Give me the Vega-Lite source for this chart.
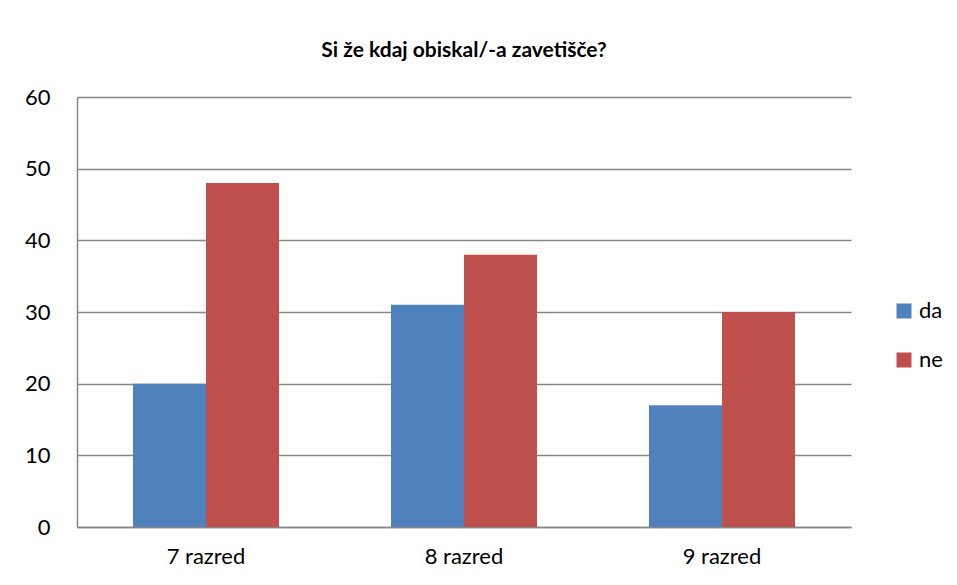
{
  "$schema": "https://vega.github.io/schema/vega-lite/v6.json",
  "width": 774,
  "height": 430,
  "autosize": {"type": "none"},
  "padding": {"left": 77, "top": 97, "right": 106, "bottom": 58},
  "background": "white",
  "title": {
    "text": "Si že kdaj obiskal/-a zavetišče?",
    "font": "Lato",
    "fontSize": 21,
    "fontWeight": "bold",
    "color": "#000000",
    "anchor": "middle",
    "offset": 25
  },
  "data": {
    "values": [
      {"razred": "7 razred", "odgovor": "da", "stevilo": 20},
      {"razred": "7 razred", "odgovor": "ne", "stevilo": 48},
      {"razred": "8 razred", "odgovor": "da", "stevilo": 31},
      {"razred": "8 razred", "odgovor": "ne", "stevilo": 38},
      {"razred": "9 razred", "odgovor": "da", "stevilo": 17},
      {"razred": "9 razred", "odgovor": "ne", "stevilo": 30}
    ]
  },
  "mark": {"type": "bar"},
  "encoding": {
    "x": {
      "field": "razred",
      "type": "nominal",
      "scale": {"paddingInner": 0.434, "paddingOuter": 0.217},
      "axis": {
        "title": null,
        "labelAngle": 0,
        "ticks": false,
        "labelPadding": 19,
        "labelFont": "Lato",
        "labelFontSize": 22,
        "labelColor": "#000000",
        "domainColor": "#868686",
        "domainWidth": 1.5
      }
    },
    "xOffset": {"field": "odgovor", "type": "nominal", "scale": {"paddingInner": 0, "paddingOuter": 0}},
    "y": {
      "field": "stevilo",
      "type": "quantitative",
      "scale": {"domain": [0, 60], "nice": false},
      "axis": {
        "title": null,
        "values": [0, 10, 20, 30, 40, 50, 60],
        "ticks": false,
        "labelPadding": 27,
        "labelFont": "Lato",
        "labelFontSize": 22,
        "labelColor": "#000000",
        "domainColor": "#868686",
        "domainWidth": 1.5,
        "gridColor": "#868686",
        "gridWidth": 1.5
      }
    },
    "color": {
      "field": "odgovor",
      "type": "nominal",
      "scale": {"domain": ["da", "ne"], "range": ["#4F81BD", "#C0504D"]},
      "legend": {
        "title": null,
        "orient": "none",
        "legendX": 816,
        "legendY": 203,
        "symbolType": "square",
        "symbolSize": 225,
        "symbolStrokeWidth": 0,
        "labelFont": "Lato",
        "labelFontSize": 22,
        "labelColor": "#000000",
        "rowPadding": 27,
        "labelOffset": 4
      }
    }
  },
  "config": {
    "view": {"stroke": null}
  }
}
